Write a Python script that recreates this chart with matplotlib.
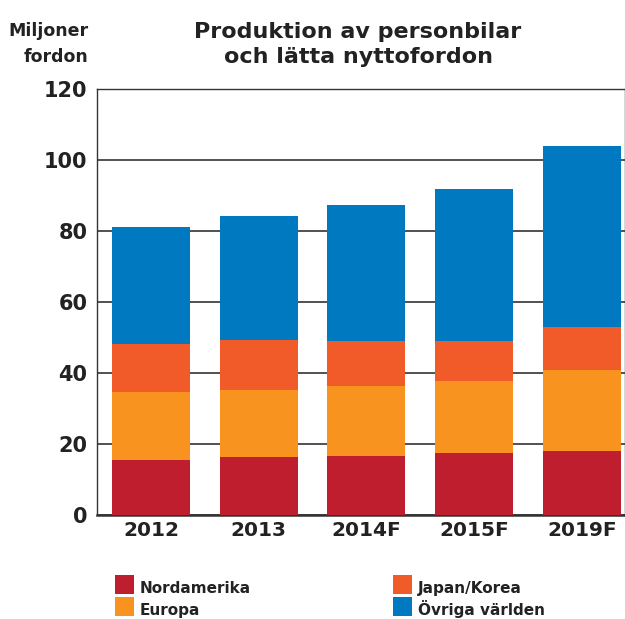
import matplotlib
matplotlib.use('Agg')
import matplotlib.pyplot as plt
from matplotlib.patches import Rectangle
import numpy as np

years = ['2012', '2013', '2014F', '2015F', '2019F']
nordamerika = [15.4, 16.2, 16.7, 17.5, 18.1]
europa = [19.2, 19.0, 19.6, 20.2, 22.7]
japan_korea = [13.7, 14.0, 12.7, 11.3, 12.2]
ovriga = [32.7, 34.9, 38.4, 42.7, 51.0]

series = [nordamerika, europa, japan_korea, ovriga]
names = ['Nordamerika', 'Europa', 'Japan/Korea', 'Övriga världen']
colors = ['#BE1E2D', '#F7931E', '#F15A29', '#0079C1']

plt.rcParams['font.family'] = ['DejaVu Sans']
W, H = 625, 619

fig = plt.figure(figsize=(W / 100, H / 100), dpi=100)
ax = fig.add_axes([97 / W, 1 - 515 / H, 1 - 97 / W, (515 - 89) / H])

x = np.arange(len(years))
bottom = np.zeros(len(years))
for vals, name, col in zip(series, names, colors):
    ax.bar(x, vals, width=0.725, bottom=bottom, color=col, label=name, zorder=3)
    bottom += np.array(vals)

ax.set_xlim(-0.5, 4.4)
ax.set_ylim(0, 120)
ax.set_yticks(range(0, 121, 20))
ax.set_xticks(x)
ax.set_xticklabels(years)
ax.yaxis.grid(True, color='#222222', linewidth=1.1, zorder=0)
ax.tick_params(axis='y', length=0, labelsize=15, pad=7)
ax.tick_params(axis='x', length=0, labelsize=14.5, pad=4)
for lbl in ax.get_xticklabels() + ax.get_yticklabels():
    lbl.set_fontweight('bold')
    lbl.set_color('#222222')
for s in ['top', 'left', 'right']:
    ax.spines[s].set_color('#333333')
    ax.spines[s].set_linewidth(1.0)
ax.spines['bottom'].set_color('#333333')
ax.spines['bottom'].set_linewidth(1.8)

fig.text(358 / W, 0.965, 'Produktion av personbilar\noch lätta nyttofordon', ha='center', va='top',
         fontsize=16, fontweight='bold', color='#222222', linespacing=1.35)
fig.text(88 / W, 0.965, 'Miljoner\nfordon', ha='right', va='top', fontsize=12.5,
         fontweight='bold', color='#222222', linespacing=1.6)

# legend: two columns, two rows
leg_pos = [(115, 575), (115, 597), (393, 575), (393, 597)]
for (lx, ly), name, col in zip(leg_pos, names, colors):
    fig.add_artist(Rectangle((lx / W, 1 - (ly + 19) / H), 19 / W, 19 / H,
                             transform=fig.transFigure, color=col, lw=0))
    fig.text((lx + 25) / W, 1 - (ly + 18) / H, name, ha='left', va='baseline',
             fontsize=11, fontweight='bold', color='#222222')

plt.savefig('out.png', dpi=100)
